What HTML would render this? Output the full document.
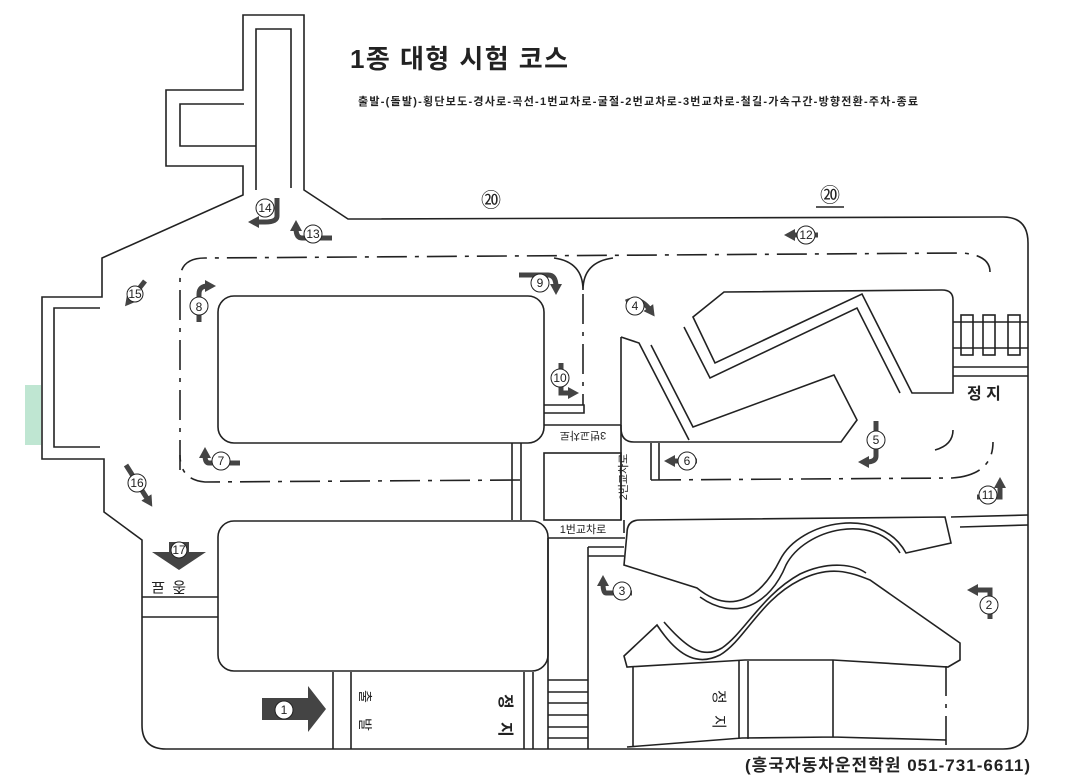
<!DOCTYPE html>
<html><head><meta charset="utf-8"><style>
html,body{margin:0;padding:0;background:#fff;}
svg{display:block;}
text{font-family:"Liberation Sans","Noto Sans CJK KR",sans-serif;fill:#222;}
</style></head><body>
<svg width="1067" height="781" viewBox="0 0 1067 781" xmlns="http://www.w3.org/2000/svg">
<defs>
<marker id="ah" markerWidth="2.2" markerHeight="2.4" refX="0.6" refY="1.2" orient="auto" markerUnits="strokeWidth"><path d="M0,0 L2.2,1.2 L0,2.4 Z" fill="#444"/></marker>
</defs>
<rect x="25" y="385" width="16" height="60" fill="#bfe6d2"/>
<g fill="none" stroke="#222" stroke-width="1.6">
<path d="M243,15 L243,90 L166,90 L166,166 L243,166 L243,195 L102,258 L102,297 L42,297 L42,459 L104,459 L104,512 L142,540 L142,725 Q142,749 166,749 L1003,749 Q1028,749 1028,725 L1028,243 Q1028,217 1003,217 L348,219 L304,190 L304,15 Z"/>
<path d="M256,190 L256,146 L180,146 L180,104 L244,104 M256,146 L256,29 L291,29 L291,188"/>
<path d="M100,308 L54,308 L54,447 L100,447"/>
<rect x="218" y="296" width="326" height="147" rx="16"/>
<rect x="218" y="521" width="330" height="150" rx="16"/>
<path d="M142,597 L218,597 M142,617 L218,617"/>
<path d="M512,443 L512,520 M521,443 L521,520"/>
<path d="M544,405 L584,405 L584,413 L544,413"/>
<path d="M544,425 L621,425"/>
<rect x="544" y="453" width="77" height="67"/>
<path d="M621,425 L621,520"/>
<path d="M548,538 L625,538 M548,538 L548,749 M588,547 L588,749 M588,547 L624,547 M588,556 L624,556"/>
<path d="M548,680 L588,680 M548,692 L588,692 M548,703 L588,703 M548,715 L588,715 M548,727 L588,727 M548,738 L588,738"/>
<path d="M524,672 L524,749 M533,672 L533,749"/>
<path d="M333,672 L333,749 M351,672 L351,749"/>
<path d="M554,258 Q583,262 583,290 Q583,262 613,258"/>
<path d="M621,337 L639,343 L689,440"/>
<path d="M621,337 L621,428 Q621,442 634,442 L841,442 L857,420 L834,375 L693,427 L651,345"/>
<path d="M684,327 L710,378 L857,308 L900,393"/>
<path d="M693,317 L715,363 L862,294 L912,393 L953,393 L953,300 Q953,290 942,290 L724,292 Z"/>
<path d="M953,322 L1028,322 M953,348 L1028,348 M953,367 L1028,367 M953,376 L1028,376"/>
<rect x="961" y="315" width="12" height="40"/>
<rect x="983" y="315" width="12" height="40"/>
<rect x="1008" y="315" width="12" height="40"/>
<path d="M651,443 L651,480 M659,443 L659,480"/>
<path d="M624,520 L624,533 M951,517 L1028,515 M960,527 L1028,525"/>
<path d="M627,533 Q627,520 640,520 L945,517 L951,543 L906,553 C880,505 800,520 780,560 C760,600 730,615 697,588 L624,565 Z"/>
<path d="M700,597 C735,622 770,605 786,565 C805,528 875,512 900,553"/>
<path d="M624,656 L657,625 C680,660 700,665 720,655 C745,640 760,600 800,580 C830,565 850,572 870,580 L960,643 L960,660 L948,667 L833,660 L745,660 L627,667 Z"/>
<path d="M664,622 C690,652 705,658 722,648 C745,632 762,595 800,574 C830,560 855,565 866,573"/>
<path d="M627,747 L742,738 L833,737 L946,740 M633,667 L633,747 M739,661 L739,739 M748,661 L748,739 M833,660 L833,737"/>
</g>
<g fill="none" stroke="#222" stroke-width="1.6" stroke-dasharray="30,8,4,8">
<path d="M180,470 L180,280 Q180,258 205,258 L962,253 Q990,255 990,272"/>
<path d="M520,480 L205,482 Q180,480 180,455"/>
<path d="M583,294 L583,405"/>
<path d="M651,480 L952,478 Q993,475 993,442"/>
<path d="M935,450 Q953,445 953,430"/>
<path d="M946,666 L946,745"/>
</g>
<g fill="none" stroke="#444" stroke-width="5" marker-end="url(#ah)">
<path d="M277,198 L277,216 Q277,222 265,222 L256,222"/>
<path d="M332,238 L302,238 Q296,238 296,228"/>
<path d="M145,281 L130,300"/>
<path d="M199,322 L199,294 Q199,286 208,286"/>
<path d="M519,275 L548,275 Q556,275 556,287"/>
<path d="M626,302 Q640,296 650,310"/>
<path d="M561,363 L561,393 L571,393"/>
<path d="M876,421 L876,456 Q876,462 866,462"/>
<path d="M697,461 L672,461"/>
<path d="M977,497 L1000,497 L1000,485"/>
<path d="M818,235 L792,235"/>
<path d="M126,465 L148,500"/>
<path d="M240,463 L209,463 Q205,463 205,455"/>
<path d="M632,593 L606,593 Q603,593 603,583"/>
<path d="M990,619 L990,590 L975,590"/>
</g>
<path d="M152,552 L206,552 L179,570 Z" fill="#444"/>
<rect x="169" y="542" width="20" height="12" fill="#444"/>
<path d="M262,698 L308,698 L308,686 L326,709 L308,732 L308,720 L262,720 Z" fill="#444"/>
<g fill="#fff" stroke="#222" stroke-width="1">
<circle cx="265" cy="208" r="9"/><circle cx="313" cy="234" r="9"/><circle cx="135" cy="294" r="8"/>
<circle cx="199" cy="306" r="9"/><circle cx="540" cy="283" r="9"/><circle cx="635" cy="306" r="9"/>
<circle cx="560" cy="378" r="9"/><circle cx="876" cy="440" r="9"/><circle cx="687" cy="461" r="9"/>
<circle cx="988" cy="495" r="9"/><circle cx="806" cy="235" r="9"/><circle cx="137" cy="483" r="9"/>
<circle cx="179" cy="550" r="8"/><circle cx="284" cy="710" r="9"/><circle cx="989" cy="605" r="9"/>
<circle cx="622" cy="591" r="9"/><circle cx="221" cy="461" r="9"/>
</g>
<g font-size="12" text-anchor="middle">
<text x="265" y="212">14</text><text x="313" y="238">13</text><text x="135" y="298">15</text>
<text x="199" y="311">8</text><text x="540" y="287">9</text><text x="635" y="310">4</text>
<text x="560" y="382">10</text><text x="876" y="444">5</text><text x="687" y="465">6</text>
<text x="988" y="499">11</text><text x="806" y="239">12</text><text x="137" y="487">16</text>
<text x="179" y="554">17</text><text x="284" y="714">1</text><text x="989" y="609">2</text>
<text x="622" y="595">3</text><text x="221" y="465">7</text>
</g>
<text x="350" y="68" font-size="26" font-weight="bold" textLength="218">1종 대형 시험 코스</text>
<text x="358" y="105" font-size="11" font-weight="bold" textLength="560">출발-(돌발)-횡단보도-경사로-곡선-1번교차로-굴절-2번교차로-3번교차로-철길-가속구간-방향전환-주차-종료</text>
<text x="491" y="207" font-size="20" text-anchor="middle">⑳</text>
<text x="830" y="202" font-size="20" text-anchor="middle">⑳</text>
<line x1="816" y1="207" x2="844" y2="207" stroke="#222" stroke-width="1.5"/>
<text x="967" y="399" font-size="16" font-weight="bold">정 지</text>
<text x="583" y="533" font-size="11" text-anchor="middle">1번교차로</text>
<text transform="translate(583,432) rotate(180)" font-size="11" text-anchor="middle">3번교차로</text>
<text transform="translate(627,477) rotate(-90)" font-size="11" text-anchor="middle">2번교차로</text>
<text transform="translate(500,694) rotate(90)" font-size="16" font-weight="bold">정</text>
<text transform="translate(500,722) rotate(90)" font-size="16" font-weight="bold">지</text>
<text transform="translate(714,690) rotate(90)" font-size="15">정</text>
<text transform="translate(714,715) rotate(90)" font-size="15">지</text>
<text transform="translate(360,690) rotate(90)" font-size="14">출</text>
<text transform="translate(360,718) rotate(90)" font-size="14">발</text>
<text transform="translate(186,582) rotate(180)" font-size="15">종</text>
<text transform="translate(165,582) rotate(180)" font-size="15">료</text>
<text x="745" y="771" font-size="17" font-weight="bold" textLength="285">(흥국자동차운전학원 051-731-6611)</text>
</svg>
</body></html>
